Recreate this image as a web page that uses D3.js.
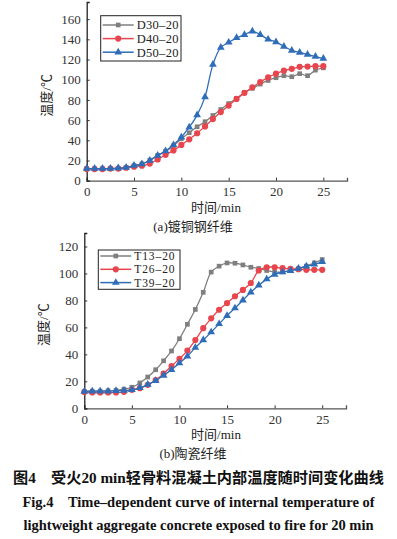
<!DOCTYPE html>
<html lang="zh">
<head>
<meta charset="UTF-8">
<title>受火20 min轻骨料混凝土内部温度随时间变化曲线</title>
<script src="https://cdnjs.cloudflare.com/ajax/libs/d3/7.8.5/d3.min.js"></script>
<style>
  body { margin: 0; background: #fff; }
  svg { display: block; }
  .tick text { font-family: "Liberation Serif", "Times New Roman", serif; font-size: 13px; fill: #333; }
  .lab { font-family: "Liberation Serif", "Noto Sans CJK SC", serif; font-size: 13px; fill: #222; }
  .cap { font-family: "Liberation Serif", "Noto Sans CJK SC", serif; font-weight: bold; fill: #111; }
</style>
</head>
<body>
<svg width="397" height="539"></svg>
<script>
// time axis: one reading every 50 s
const times = d3.range(31).map(i => i * 5 / 6);
const xTicks = [0, 5, 10, 15, 20, 25];

// (a) copper-coated steel fibre
const d30 = [12, 11.8, 11.8, 12, 12, 13, 15, 16.7, 20.3, 25, 29, 34.4, 41.6, 47.5, 53.4, 58.4, 64.6, 70.5, 76.4, 81.6, 87, 91.5, 95.7, 99.3, 102, 104, 103, 106, 104, 109.5, 111.8];
const d40 = [11.5, 11.5, 11.5, 12, 12, 12.8, 13.8, 14.8, 17, 21, 25.6, 30, 35.4, 41, 47, 53.8, 61, 68, 74.4, 81, 87, 92.5, 97.7, 102.3, 106, 109, 110.8, 112.8, 113, 113.4, 113.4];
const d50 = [12, 12, 12, 12, 12.5, 13, 15, 16.5, 20, 25, 29.5, 35.5, 43, 53, 65, 83, 115, 132, 137, 141.5, 144.5, 148, 144.6, 140, 137.4, 133, 129, 127, 125, 123, 121];

// (b) ceramic fibre
const t13 = [12.5, 12.7, 12.7, 13, 13.2, 14.2, 15.6, 18.8, 23.2, 28.6, 35.2, 42.5, 51.6, 62.3, 73.3, 86, 101, 105.4, 107.8, 107.6, 106.3, 104.6, 103.7, 102.2, 101, 101.2, 102.2, 103.4, 105.4, 107.8, 110.3];
const t26 = [12, 11.7, 11.7, 11.7, 11.7, 12.2, 13.7, 14.9, 17.4, 21, 25.7, 31.3, 36.7, 42.8, 50.6, 59.4, 66.7, 73.1, 78, 83.1, 87.8, 92.9, 102.2, 104.6, 104.6, 103.9, 103.4, 103.2, 102.7, 102.7, 102.7];
const t39 = [12.5, 12.7, 12.7, 12.7, 13, 13.2, 13.7, 15.2, 17.6, 20.5, 24.4, 28.6, 33.5, 38.6, 45, 50.6, 56.5, 62.6, 68.7, 74.3, 80.2, 86, 91.2, 95.8, 99.3, 101, 102, 103.7, 105.4, 106.8, 108.6];

const colors = { gray: "#7f7f7f", red: "#e8464e", blue: "#2f6db8" };

const svg = d3.select("svg");

function panel(opt) {
  const x = d3.scaleLinear().domain([0, 27.5]).range([opt.left, opt.right]);
  const y = d3.scaleLinear().domain([0, opt.yMax]).range([opt.bottom, opt.top]);
  const g = svg.append("g");

  g.append("g")
    .attr("transform", `translate(0,${opt.bottom})`)
    .call(d3.axisBottom(x).tickValues(xTicks).tickSize(-3).tickPadding(6))
    .call(a => a.select(".domain").attr("stroke", "#555").attr("stroke-width", 1.3))
    .call(a => a.selectAll(".tick line").attr("stroke", "#333"));

  g.append("g")
    .attr("transform", `translate(${opt.left},0)`)
    .call(d3.axisLeft(y).tickValues(opt.yTicks).tickSize(-3).tickPadding(6))
    .call(a => a.select(".domain").attr("stroke", "#222").attr("stroke-width", 1.3))
    .call(a => a.selectAll(".tick line").attr("stroke", "#333"));

  const line = d3.line()
    .x((d, i) => x(times[i]))
    .y(d => y(d))
    .curve(d3.curveCatmullRom.alpha(0.5));

  opt.series.forEach(s => {
    g.append("path")
      .datum(s.values)
      .attr("fill", "none")
      .attr("stroke", s.color)
      .attr("stroke-width", 1.3)
      .attr("d", line);
    const sym = d3.symbol().type(s.shape).size(s.size);
    g.selectAll(null)
      .data(s.values)
      .join("path")
      .attr("transform", (d, i) => `translate(${x(times[i])},${y(d)})`)
      .attr("d", sym)
      .attr("fill", s.color);
  });

  // legend
  const L = opt.legend;
  const lg = g.append("g");
  lg.append("rect")
    .attr("x", L.x).attr("y", L.y)
    .attr("width", L.w).attr("height", L.h)
    .attr("fill", "#fff").attr("stroke", "#222").attr("stroke-width", 1);
  opt.series.forEach((s, i) => {
    const ly = L.y + L.row0 + i * L.step;
    const x0 = L.x + 2, x1 = L.x + 33;
    lg.append("line").attr("x1", x0).attr("x2", x1).attr("y1", ly).attr("y2", ly)
      .attr("stroke", s.color).attr("stroke-width", 1.5);
    lg.append("path").attr("transform", `translate(${(x0 + x1) / 2},${ly})`)
      .attr("d", d3.symbol().type(s.shape).size(s.size)()).attr("fill", s.color);
    lg.append("text").attr("class", "lab")
      .attr("x", x1 + 3).attr("y", ly).attr("dy", "0.35em")
      .style("font-size", L.font + "px")
      .style("letter-spacing", L.spacing + "px")
      .text(s.name);
  });

  g.append("text").attr("class", "lab")
    .attr("transform", `translate(${opt.left - 36},${(opt.bottom + opt.top) / 2 + 4}) rotate(-90)`)
    .attr("text-anchor", "middle")
    .text("温度/℃");
  g.append("text").attr("class", "lab")
    .attr("x", opt.xLabelX).attr("y", opt.bottom + 31)
    .attr("text-anchor", "middle")
    .text("时间/min");
  g.append("text").attr("class", "lab")
    .attr("x", opt.subX).attr("y", opt.bottom + 50)
    .attr("text-anchor", "middle")
    .text(opt.sub);
}

panel({
  left: 86.7, right: 347, top: 2, bottom: 180.7, yMax: 177,
  yTicks: d3.range(0, 161, 20),
  xLabelX: 216, subX: 193, sub: "(a)镀铜钢纤维",
  legend: { x: 100.7, y: 15.7, w: 80.3, h: 45.3, row0: 9.3, step: 13.6, font: 12.5, spacing: 0.3 },
  series: [
    { name: "D30–20", values: d30, color: colors.gray, shape: d3.symbolSquare, size: 22 },
    { name: "D40–20", values: d40, color: colors.red, shape: d3.symbolCircle, size: 30 },
    { name: "D50–20", values: d50, color: colors.blue, shape: d3.symbolTriangle, size: 26 }
  ]
});

panel({
  left: 84.3, right: 346, top: 233, bottom: 408.3, yMax: 130,
  yTicks: d3.range(0, 121, 20),
  xLabelX: 216, subX: 193, sub: "(b)陶瓷纤维",
  legend: { x: 98.3, y: 250, w: 81.7, h: 39.3, row0: 6, step: 13.3, font: 11.5, spacing: 0.9 },
  series: [
    { name: "T13–20", values: t13, color: colors.gray, shape: d3.symbolSquare, size: 22 },
    { name: "T26–20", values: t26, color: colors.red, shape: d3.symbolCircle, size: 30 },
    { name: "T39–20", values: t39, color: colors.blue, shape: d3.symbolTriangle, size: 26 }
  ]
});

// figure caption
const caps = [
  { text: "图4\u2003受火20 min轻骨料混凝土内部温度随时间变化曲线", y: 483, size: 15.2 },
  { text: "Fig.4\u2003Time–dependent curve of internal temperature of", y: 507, size: 14.5 },
  { text: "lightweight aggregate concrete exposed to fire for 20 min", y: 530, size: 14.5 }
];
svg.selectAll(".cap")
  .data(caps)
  .join("text")
  .attr("class", "cap")
  .attr("x", d => d.x || 198.5).attr("y", d => d.y)
  .attr("text-anchor", "middle")
  .attr("font-size", d => d.size)
  .text(d => d.text);
</script>
</body>
</html>
